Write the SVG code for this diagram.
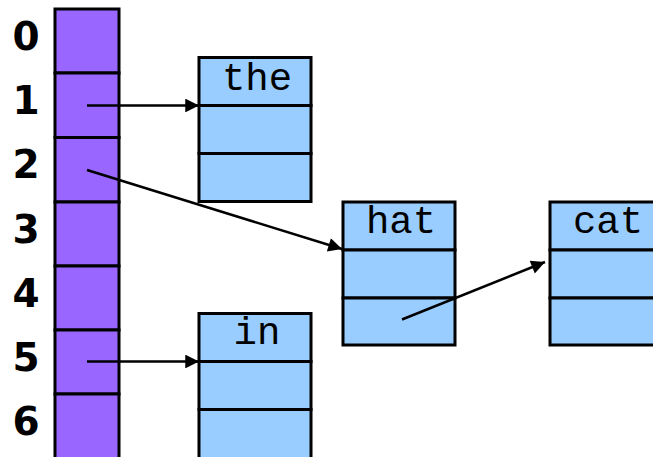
<svg xmlns="http://www.w3.org/2000/svg" width="653" height="457" viewBox="0 0 653 457">
<style>
.cell{fill:#9966FF;stroke:#000;stroke-width:3}
.box{fill:#99CCFF;stroke:#000;stroke-width:3}
.idx{font-family:"DejaVu Sans",Verdana,sans-serif;font-weight:bold;font-size:39px;text-anchor:middle;fill:#000}
.word{font-family:"Liberation Mono","Courier New",monospace;font-size:39px;text-anchor:middle;fill:#000}
.conn{stroke:#000;stroke-width:2.5;fill:none;marker-end:url(#ah)}
</style>
<defs>
<marker id="ah" viewBox="0 0 10 10" refX="10" refY="5" markerWidth="6.5" markerHeight="5.5" orient="auto" markerUnits="strokeWidth">
<path d="M0,0 L10,5 L0,10 Z" fill="#000"/>
</marker>
</defs>
<rect width="653" height="457" fill="#fff"/>
<g id="table">
<rect class="cell" x="55" y="9" width="64" height="64"/>
<rect class="cell" x="55" y="73" width="64" height="64.5"/>
<rect class="cell" x="55" y="137.5" width="64" height="64.5"/>
<rect class="cell" x="55" y="202" width="64" height="64"/>
<rect class="cell" x="55" y="266" width="64" height="64"/>
<rect class="cell" x="55" y="330" width="64" height="64"/>
<rect class="cell" x="55" y="394" width="64" height="70"/>
<text class="idx" x="26" y="50">0</text>
<text class="idx" x="26" y="114">1</text>
<text class="idx" x="26" y="178">2</text>
<text class="idx" x="26" y="243">3</text>
<text class="idx" x="26" y="307">4</text>
<text class="idx" x="26" y="371">5</text>
<text class="idx" x="26" y="435">6</text>
</g>
<g id="node-the">
<rect class="box" x="199" y="57.5" width="112" height="48"/>
<rect class="box" x="199" y="105.5" width="112" height="48"/>
<rect class="box" x="199" y="153.5" width="112" height="48"/>
<text class="word" x="257" y="90">the</text>
</g>
<g id="node-hat">
<rect class="box" x="343" y="202" width="112" height="48"/>
<rect class="box" x="343" y="250" width="112" height="48"/>
<rect class="box" x="343" y="298" width="112" height="47"/>
<text class="word" x="401" y="233">hat</text>
</g>
<g id="node-cat">
<rect class="box" x="550" y="202" width="112" height="48"/>
<rect class="box" x="550" y="250" width="112" height="48"/>
<rect class="box" x="550" y="298" width="112" height="47"/>
<text class="word" x="608" y="233">cat</text>
</g>
<g id="node-in">
<rect class="box" x="199" y="313.5" width="112" height="48"/>
<rect class="box" x="199" y="361.5" width="112" height="48"/>
<rect class="box" x="199" y="409.5" width="112" height="55"/>
<text class="word" x="257" y="344">in</text>
</g>
<g id="connectors">
<line class="conn" x1="87" y1="105.5" x2="199" y2="105.5"/>
<line class="conn" x1="87" y1="170" x2="342" y2="249"/>
<line class="conn" x1="402" y1="319.5" x2="545" y2="262"/>
<line class="conn" x1="87" y1="361.5" x2="199" y2="361.5"/>
</g>
</svg>
